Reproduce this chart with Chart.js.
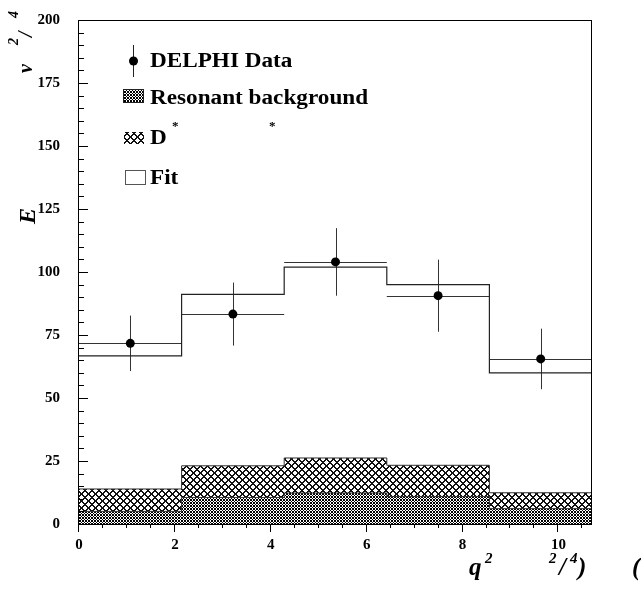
<!DOCTYPE html>
<html>
<head>
<meta charset="utf-8">
<script src="https://cdn.jsdelivr.net/npm/chart.js@4/dist/chart.umd.min.js"></script>
<style>
  body { margin: 0; background: #fff; }
  canvas { display: block; }
</style>
</head>
<body>
<canvas id="q2Chart" width="641" height="589"></canvas>
<script>
// bins in q^2
var binEdges = [0, 2.14, 4.28, 6.42, 8.56, 10.7];
var binCenters = [1.07, 3.21, 5.35, 7.49, 9.63];
// measured points
var dataValues = [71.7, 83.3, 104.0, 90.6, 65.5];
var dataErrors = [11.0, 12.5, 13.4, 14.3, 12.0];
// fit and background components
var fitValues = [66.7, 91.1, 101.9, 95.0, 60.0];
var resonantValues = [5.0, 10.5, 12.3, 10.9, 6.1];
var dstarValues = [8.9, 12.6, 13.9, 12.4, 6.3];
// axis ticks
var xTicks = [0, 2, 4, 6, 8, 10];
var yTicks = [0, 25, 50, 75, 100, 125, 150, 175, 200];

var serif = '"Liberation Serif", "Times New Roman", serif';
var ink = '#222';

var ctx = document.getElementById('q2Chart').getContext('2d');

// pixel crosshatch tile: two diagonal families with the given period and thickness
function hatch(size, thick, shade) {
    var c = document.createElement('canvas');
    c.width = size; c.height = size;
    var g = c.getContext('2d');
    g.fillStyle = shade;
    for (var x = 0; x < size; x++) {
        for (var y = 0; y < size; y++) {
            if ((x + y) % size < thick || (x - y + size) % size < thick) g.fillRect(x, y, 1, 1);
        }
    }
    return ctx.createPattern(c, 'repeat');
}
var densePattern = hatch(3, 1, '#000');
var widePattern = hatch(7, 2, '#111');

// histogram outline points (left edges + closing right edge)
function steps(values) {
    var pts = [];
    for (var i = 0; i < values.length; i++) pts.push({x: binEdges[i], y: values[i]});
    pts.push({x: binEdges[binEdges.length - 1], y: values[values.length - 1]});
    return pts;
}
var totalBg = resonantValues.map(function (v, i) { return v + dstarValues[i]; });
var points = binCenters.map(function (x, i) { return {x: x, y: dataValues[i]}; });

// error bars, drawn under the markers
var errorBars = {
    id: 'errorBars',
    beforeDatasetDraw: function (chart, args) {
        if (args.index !== 3) return;
        var xs = chart.scales.x, ys = chart.scales.y, c = chart.ctx;
        c.save();
        c.strokeStyle = '#333';
        c.lineWidth = 1;
        for (var i = 0; i < dataValues.length; i++) {
            var px = Math.round(xs.getPixelForValue(binCenters[i])) + 0.5;
            var py = Math.round(ys.getPixelForValue(dataValues[i])) + 0.5;
            c.beginPath();
            c.moveTo(px, ys.getPixelForValue(dataValues[i] + dataErrors[i]));
            c.lineTo(px, ys.getPixelForValue(dataValues[i] - dataErrors[i]));
            c.moveTo(xs.getPixelForValue(binEdges[i]), py);
            c.lineTo(xs.getPixelForValue(binEdges[i + 1]), py);
            c.stroke();
        }
        c.restore();
    }
};

// wide bold serif text, as in the legend
function wideText(c, s, x, y, size) {
    c.save();
    c.translate(x, y);
    c.scale(1.16, 1);
    c.font = 'bold ' + size + 'px ' + serif;
    c.fillText(s, 0, 0);
    c.restore();
}

// frame, inner y ticks, outer x ticks, titles and legend
var decorations = {
    id: 'decorations',
    afterDraw: function (chart) {
        var a = chart.chartArea, xs = chart.scales.x, ys = chart.scales.y, c = chart.ctx;
        c.save();
        c.strokeStyle = '#000';
        c.lineWidth = 1;
        c.strokeRect(Math.round(a.left) - 0.5, Math.round(a.top) + 0.5, Math.round(a.right - a.left), Math.round(a.bottom - a.top));
        c.beginPath();
        for (var v = 0; v <= 200; v += 5) {
            var y = Math.round(ys.getPixelForValue(v)) + 0.5;
            c.moveTo(a.left, y);
            c.lineTo(a.left + (v % 25 === 0 ? 9 : 5), y);
        }
        for (var q = 0; q <= 10.7; q += 0.5) {
            var x = Math.round(xs.getPixelForValue(q)) - 0.5;
            c.moveTo(x, a.bottom);
            c.lineTo(x, a.bottom + (q % 2 === 0 ? 8 : 4));
        }
        c.stroke();

        c.fillStyle = '#000';
        c.textBaseline = 'alphabetic';
        // y title
        c.save();
        c.translate(35, 224);
        c.rotate(-Math.PI / 2);
        c.font = 'italic bold 24px ' + serif;
        c.fillText('E', 0, 0);
        c.restore();
        c.save();
        c.translate(32, 73);
        c.rotate(-Math.PI / 2);
        c.font = 'italic bold 20px ' + serif;
        c.fillText('v', 0, 0);
        c.font = 'italic bold 14px ' + serif;
        c.fillText('2', 28, -14);
        c.font = 'italic bold 20px ' + serif;
        c.fillText('/', 36, 0);
        c.font = 'italic bold 14px ' + serif;
        c.fillText('4', 55, -14);
        c.restore();
        // x title
        c.font = 'italic bold 25px ' + serif;
        c.fillText('q', 469, 575);
        c.fillText('/', 559, 575);
        c.fillText(')', 578, 575);
        c.fillText('(', 632, 575);
        c.font = 'italic bold 15px ' + serif;
        c.fillText('2', 485, 563);
        c.fillText('2', 549, 563);
        c.fillText('4', 570, 563);

        // legend
        c.strokeStyle = ink;
        c.beginPath();
        c.moveTo(133.5, 45);
        c.lineTo(133.5, 77);
        c.stroke();
        c.beginPath();
        c.arc(133.5, 61, 4.5, 0, Math.PI * 2);
        c.fill();
        c.fillStyle = densePattern;
        c.fillRect(124, 90, 20, 13);
        c.strokeStyle = ink;
        c.strokeRect(123.5, 89.5, 20, 13);
        c.fillStyle = widePattern;
        c.fillRect(124, 132, 20, 12);
        c.strokeStyle = '#555';
        c.strokeRect(125.5, 170.5, 20, 14);

        c.fillStyle = '#000';
        wideText(c, 'DELPHI Data', 150, 67, 20);
        wideText(c, 'Resonant background', 150, 104, 20);
        wideText(c, 'D', 150, 144, 20);
        wideText(c, 'Fit', 150, 184, 20);
        c.font = 'bold 13px ' + serif;
        c.fillText('*', 172, 130);
        c.fillText('*', 269, 130);
        c.restore();
    }
};

var myChart = new Chart(ctx, {
    type: 'line',
    data: {
        datasets: [{
            label: 'Resonant background',
            data: steps(resonantValues),
            stepped: true,
            borderColor: '#333',
            borderWidth: 1,
            backgroundColor: densePattern,
            fill: 'origin',
            pointRadius: 0
        }, {
            label: 'D*',
            data: steps(totalBg),
            stepped: true,
            borderColor: '#333',
            borderWidth: 1,
            backgroundColor: widePattern,
            fill: '-1',
            pointRadius: 0
        }, {
            label: 'Fit',
            data: steps(fitValues),
            stepped: true,
            borderColor: '#222',
            borderWidth: 1.2,
            fill: false,
            pointRadius: 0
        }, {
            label: 'DELPHI Data',
            type: 'scatter',
            data: points,
            showLine: false,
            pointRadius: 4.5,
            pointBackgroundColor: '#000',
            pointBorderWidth: 0
        }]
    },
    options: {
        responsive: false,
        animation: false,
        layout: { padding: { top: 11, right: 49, left: 0, bottom: 0 } },
        plugins: { legend: { display: false }, tooltip: { enabled: false } },
        scales: {
            x: {
                type: 'linear',
                min: 0,
                max: 10.7,
                grid: { display: false },
                border: { display: false },
                afterFit: function (s) { s.height = 65; },
                afterBuildTicks: function (s) { s.ticks = xTicks.map(function (v) { return {value: v}; }); },
                ticks: { color: '#000', padding: 4, maxRotation: 0, font: { family: serif, weight: 'bold', size: 15 } }
            },
            y: {
                type: 'linear',
                min: 0,
                max: 200,
                grid: { display: false },
                border: { display: false },
                afterFit: function (s) { s.width = 79; },
                afterBuildTicks: function (s) { s.ticks = yTicks.map(function (v) { return {value: v}; }); },
                ticks: { color: '#000', padding: 11, font: { family: serif, weight: 'bold', size: 15 } }
            }
        }
    },
    plugins: [errorBars, decorations]
});
</script>
</body>
</html>
